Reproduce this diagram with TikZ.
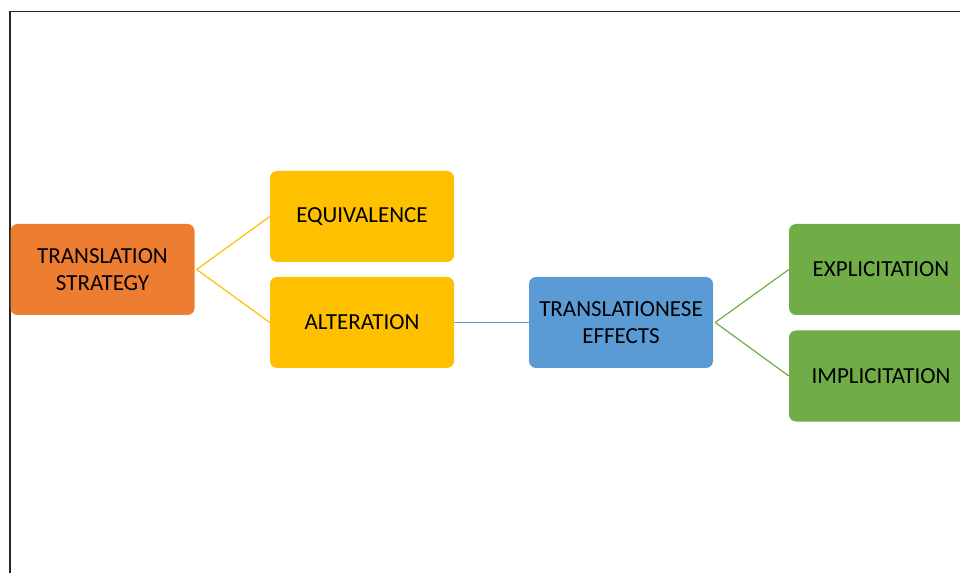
\documentclass[tikz,border=0pt]{standalone}
\usepackage{fontspec}
\setmainfont{Carlito}
\definecolor{orangebox}{HTML}{ED7D31}
\definecolor{yellowbox}{HTML}{FFC000}
\definecolor{bluebox}{HTML}{5B9BD5}
\definecolor{greenbox}{HTML}{70AD47}
\tikzset{
  box/.style={rounded corners=7pt, minimum width=184pt, minimum height=91pt,
    inner sep=0pt, align=center, font=\fontsize{23}{27}\selectfont, text=black},
  link/.style={line width=1.2pt}
}
\begin{document}
\begin{tikzpicture}[x=1pt,y=1pt]
            % 画布大小
            \useasboundingbox (0,0) rectangle (960,573);

            % 外框
            \draw[line width=1.5pt, black!85] (10,0) -- (10,561.5) -- (960,561.5);

            % 左边: 翻译策略
            \node[box, fill=orangebox] (strategy) at (102.5,303.5) {TRANSLATION\\STRATEGY};

            % 中间: 两个黄色格子
            \node[box, fill=yellowbox] (equiv) at (362,356.5) {EQUIVALENCE};
            \node[box, fill=yellowbox] (alter) at (362,250.5) {ALTERATION};

            % 蓝色格子
            \node[box, fill=bluebox] (effects) at (621,250.5) {TRANSLATIONESE\\EFFECTS};

            % 右边: 两个绿色格子
            \node[box, fill=greenbox] (explic) at (881,303.5) {EXPLICITATION};
            \node[box, fill=greenbox] (implic) at (881,197) {IMPLICITATION};

            % 连线
            \draw[link, yellowbox] ([xshift=2pt]strategy.east) -- (equiv.west);
            \draw[link, yellowbox] ([xshift=2pt]strategy.east) -- (alter.west);
            \draw[link, bluebox] (alter.east) -- (effects.west);
            \draw[link, greenbox] ([xshift=2pt]effects.east) -- (explic.west);
            \draw[link, greenbox] ([xshift=2pt]effects.east) -- (implic.west);
\end{tikzpicture}
\end{document}
